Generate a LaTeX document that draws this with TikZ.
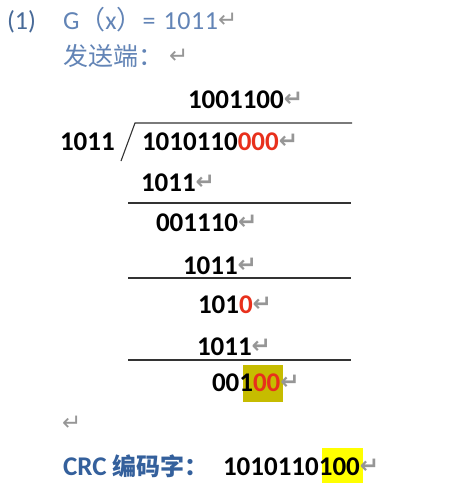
\documentclass[tikz,border=0pt]{standalone}
\usepackage{fontspec}
\setmainfont{Carlito}
\newfontfamily\cjk{Noto Sans CJK SC}
\newfontfamily\dvs{DejaVu Sans}
\definecolor{hdblue}{RGB}{98,132,182}
\definecolor{numblue}{RGB}{72,106,152}
\definecolor{crcblue}{RGB}{52,96,156}
\definecolor{rmkgray}{RGB}{150,150,150}
\definecolor{crcred}{RGB}{232,48,28}
\definecolor{olivehl}{RGB}{198,188,0}
\definecolor{yellowhl}{RGB}{255,255,0}
\newcommand\retmark{\raisebox{2pt}{\dvs\fontsize{23}{23}\selectfont\color{rmkgray}↵}}
\newcommand\rd[1]{\textcolor{crcred}{#1}}
\begin{document}
\begin{tikzpicture}[x=1pt,y=-1pt,
  txt/.style={anchor=base west,inner sep=0pt,outer sep=0pt},
  digits/.style={txt,font=\fontsize{27}{27}\selectfont\bfseries},
  head/.style={txt,font=\fontsize{26}{26}\selectfont,text=hdblue},
  crc/.style={txt,font=\fontsize{27}{27}\selectfont\bfseries,text=crcblue},
  rule/.style={line width=1.1pt,black!80}]
\useasboundingbox (0,0) rectangle (461,495);
\fill[white] (0,0) rectangle (461,495);
% highlights
\fill[olivehl] (243,365) rectangle (283,402);
\fill[yellowhl] (322,448) rectangle (363,483);
% header
\node[head,text=numblue] (num) at (7,30) {(1)};
\node[head] (gx) at (63,30) {G{\cjk （}x{\cjk ）}=\hspace{8pt}1\hspace{0.6pt}0\hspace{0.6pt}1\hspace{0.6pt}1\retmark};
\node[head] (fs) at (63,66) {{\cjk\fontsize{25}{25}\selectfont 发送端：}\hspace{6pt}\retmark};
% division
\node[digits] (quot) at (188,108.5) {1001100\retmark};
\node[digits] (divisor) at (60,150) {1011};
\node[digits] (dividend) at (142,150) {1010110\rd{000}\retmark};
\node[digits] (s1) at (141,191.5) {1011\retmark};
\node[digits] (r1) at (156,231.5) {001110\retmark};
\node[digits] (s2) at (183,274.5) {1011\retmark};
\node[digits] (r2) at (198,313.5) {101\rd{0}\retmark};
\node[digits] (s3) at (197,355.5) {1011\retmark};
\node[digits] (rem) at (212,391.5) {001\rd{00}\retmark};
\node[txt] (blank) at (62,432) {\retmark};
% division bracket and rules
\draw[rule] (121,161) -- (135,123) -- (352,123);
\draw[rule] (128,203) -- (351,203);
\draw[rule] (128,278) -- (351,278);
\draw[rule] (128,360) -- (351,360);
% result
\node[crc] (crclab) at (63,475.5) {CRC {\cjk\fontsize{24}{24}\selectfont 编码字：}};
\node[digits] (code) at (223,475.5) {1010110100\retmark};
\end{tikzpicture}
\end{document}
